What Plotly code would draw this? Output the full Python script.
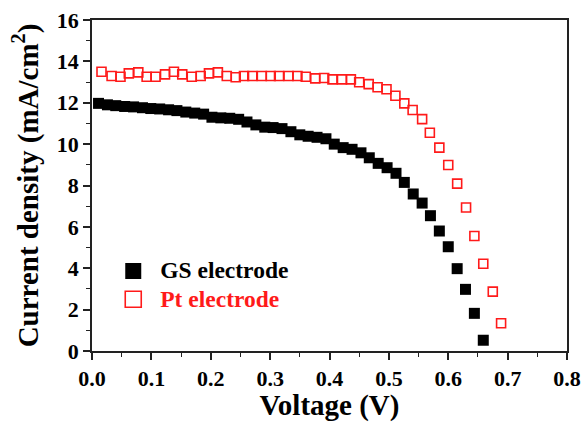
import plotly.graph_objects as go

# GS electrode (filled black squares)
gs_voltage = [0.011, 0.026, 0.040, 0.055, 0.070, 0.085, 0.099, 0.114, 0.129, 0.143,
              0.158, 0.173, 0.188, 0.202, 0.217, 0.232, 0.247, 0.261, 0.276, 0.291,
              0.305, 0.320, 0.335, 0.350, 0.364, 0.379, 0.394, 0.408, 0.423, 0.438,
              0.453, 0.467, 0.482, 0.497, 0.512, 0.526, 0.541, 0.556, 0.570, 0.585,
              0.600, 0.615, 0.629, 0.644, 0.659]
gs_current = [11.97, 11.90, 11.86, 11.82, 11.80, 11.76, 11.72, 11.70, 11.66, 11.62,
              11.55, 11.50, 11.45, 11.30, 11.27, 11.25, 11.20, 11.07, 10.93, 10.82,
              10.80, 10.75, 10.60, 10.45, 10.38, 10.33, 10.26, 10.00, 9.83, 9.75,
              9.58, 9.34, 9.07, 8.86, 8.59, 8.15, 7.59, 7.15, 6.54, 5.80,
              5.04, 3.98, 2.98, 1.82, 0.52]

# Pt electrode (open red squares)
pt_voltage = [0.016, 0.033, 0.048, 0.062, 0.078, 0.092, 0.107, 0.123, 0.138, 0.152,
              0.168, 0.183, 0.197, 0.212, 0.227, 0.242, 0.256, 0.270, 0.286, 0.301,
              0.315, 0.331, 0.346, 0.360, 0.376, 0.391, 0.405, 0.421, 0.436, 0.450,
              0.466, 0.481, 0.496, 0.511, 0.526, 0.540, 0.556, 0.569, 0.585, 0.600,
              0.615, 0.630, 0.644, 0.659, 0.675, 0.689]
pt_current = [13.50, 13.29, 13.26, 13.42, 13.47, 13.26, 13.26, 13.37, 13.50, 13.37,
              13.26, 13.29, 13.42, 13.47, 13.29, 13.23, 13.29, 13.29, 13.29, 13.29,
              13.29, 13.29, 13.29, 13.26, 13.18, 13.20, 13.13, 13.13, 13.13, 12.99,
              12.90, 12.75, 12.65, 12.34, 11.97, 11.65, 11.21, 10.55, 9.83, 8.99,
              8.09, 6.94, 5.56, 4.22, 2.87, 1.34]

x_ticks = [0.0, 0.1, 0.2, 0.3, 0.4, 0.5, 0.6, 0.7, 0.8]
x_tick_labels = ["0.0", "0.1", "0.2", "0.3", "0.4", "0.5", "0.6", "0.7", "0.8"]
y_ticks = [0, 2, 4, 6, 8, 10, 12, 14, 16]

SERIF = "'Liberation Serif', 'Times New Roman', Times, serif"
RED = "#ff1a1a"

fig = go.Figure()
fig.add_trace(go.Scatter(x=gs_voltage, y=gs_current, mode="markers", showlegend=False,
                         marker=dict(symbol="square", size=11, color="black",
                                     line=dict(width=0))))
fig.add_trace(go.Scatter(x=pt_voltage, y=pt_current, mode="markers", showlegend=False,
                         marker=dict(symbol="square-open", size=9, color=RED,
                                     line=dict(width=1.6, color=RED))))
# legend entries
fig.add_trace(go.Scatter(x=[None], y=[None], mode="markers",
                         name="<b><span style='font-size:23.5px'>GS electrode</span></b>",
                         marker=dict(symbol="square", size=16, color="black")))
fig.add_trace(go.Scatter(x=[None], y=[None], mode="markers",
                         name="<b><span style='font-size:23.5px;color:%s'>Pt electrode</span></b>" % RED,
                         marker=dict(symbol="square-open", size=16, color=RED,
                                     line=dict(width=1.6, color=RED))))

axis_common = dict(
    showline=True, linecolor="#222", linewidth=1.6, mirror=True,
    ticks="outside", ticklen=7, tickwidth=1.6, tickcolor="#222",
    showgrid=False, zeroline=False, automargin=False, ticklabeloverflow="allow",
    tickfont=dict(family=SERIF, size=22, color="black", weight="bold"),
)

fig.update_xaxes(range=[0, 0.8], tickvals=x_ticks, ticktext=x_tick_labels,
                 minor=dict(ticks="outside", ticklen=4, tickwidth=1.4, tickcolor="#222", dtick=0.05),
                 title=dict(text="<b>Voltage (V)</b>", font=dict(family=SERIF, size=29, color="black"),
                            standoff=2),
                 **axis_common)
fig.update_yaxes(range=[0, 16], tickvals=y_ticks,
                 minor=dict(ticks="outside", ticklen=4, tickwidth=1.4, tickcolor="#222", dtick=1),
                 title=dict(text="<b>Current density (mA/cm<sup>2</sup>)</b>",
                            font=dict(family=SERIF, size=29, color="black"),
                            standoff=10),
                 **axis_common)

fig.update_layout(
    width=582, height=422,
    margin=dict(l=92, r=15, t=20, b=71),
    paper_bgcolor="white", plot_bgcolor="white",
    font=dict(family=SERIF),
    legend=dict(x=0.03, y=0.30, xanchor="left", yanchor="top", itemwidth=44,
                bgcolor="rgba(0,0,0,0)", borderwidth=0, tracegroupgap=0,
                font=dict(family=SERIF, size=19.5, color="black")),
)

# remove the default page margin so the figure sits at the window's top-left corner
fig.write_html("out.html", config={"displayModeBar": False},
               post_script="document.body.style.margin='0';document.body.style.overflow='hidden';")
